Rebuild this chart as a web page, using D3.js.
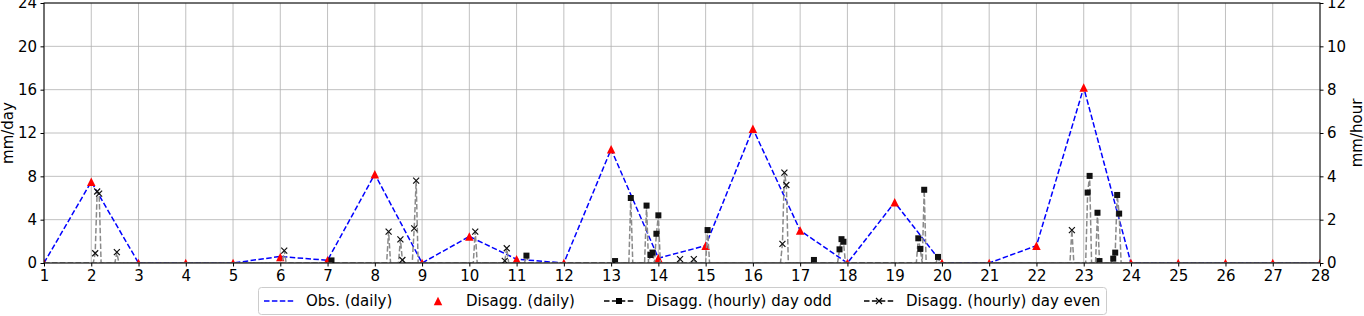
<!DOCTYPE html>
<html>
<head>
<meta charset="utf-8">
<script src="https://cdn.jsdelivr.net/npm/d3@7"></script>
<style>
  body { margin: 0; background: #fff; }
  text { font-family: "DejaVu Sans", sans-serif; }
</style>
</head>
<body>
<svg id="chart" width="1364" height="316"></svg>
<script>
// daily values (mm/day), days 1..28
const days = d3.range(1, 29)
const obsDaily = [0, 7.5, 0, 0, 0, 0.6, 0.25, 8.2, 0, 2.45, 0.35, 0, 10.5, 0.45,
  1.6, 12.4, 3.0, 0, 5.6, 0, 0, 1.6, 16.2, 0, 0, 0, 0, 0]
const disaggDaily = [0, 7.5, 0, 0, 0, 0.55, 0.25, 8.2, 0, 2.45, 0.35, 0, 10.5, 0.45,
  1.6, 12.4, 3.0, 0, 5.6, 0, 0, 1.6, 16.2, 0, 0, 0, 0, 0]

// hourly values (mm/hour), [day, hour (1..24), value], all other hours are 0
const hourlyOdd = [
  [7, 2, 0.12],
  [11, 5, 0.34],
  [13, 2, 0.09], [13, 10, 3.0], [13, 18, 2.65], [13, 20, 0.37], [13, 21, 0.48], [13, 23, 1.35], [13, 24, 2.2],
  [15, 1, 1.52],
  [17, 7, 0.14], [17, 20, 0.63], [17, 21, 1.1], [17, 22, 0.98],
  [19, 12, 1.14], [19, 13, 0.65], [19, 15, 3.38], [19, 22, 0.28],
  [23, 2, 3.25], [23, 3, 4.02], [23, 7, 2.32], [23, 8, 0.09], [23, 15, 0.2], [23, 16, 0.48], [23, 17, 3.14], [23, 18, 2.28]
]
const hourlyEven = [
  [2, 2, 0.45], [2, 3, 3.3], [2, 4, 3.2], [2, 13, 0.5],
  [6, 2, 0.57],
  [8, 7, 1.45], [8, 13, 1.09], [8, 14, 0.14], [8, 20, 1.6], [8, 21, 3.8],
  [10, 3, 1.45], [10, 18, 0.1], [10, 19, 0.68],
  [14, 11, 0.18], [14, 18, 0.18],
  [16, 15, 0.88], [16, 16, 4.17], [16, 17, 3.6],
  [22, 18, 1.52]
]

const xTicks = d3.range(1, 29)
const yLeftTicks = [0, 4, 8, 12, 16, 20, 24]
const yRightTicks = [0, 2, 4, 6, 8, 10, 12]

const W = 1364, H = 316
const mLeft = 44, mRight = 1320, mTop = 3, mBottom = 263
const fontSize = 15

const svg = d3.select('#chart')
svg.append('rect').attr('width', W).attr('height', H).attr('fill', '#fff')

const x = d3.scaleLinear().domain([1, 28]).range([mLeft, mRight])
const yL = d3.scaleLinear().domain([0, 24]).range([mBottom, mTop])
const yR = d3.scaleLinear().domain([0, 12]).range([mBottom, mTop])

svg.append('clipPath').attr('id', 'plot-clip')
  .append('rect').attr('x', mLeft).attr('y', mTop).attr('width', mRight - mLeft).attr('height', mBottom - mTop)

// grid
const grid = svg.append('g')
grid.selectAll('.gx').data(xTicks).enter().append('line')
  .attr('x1', d => x(d)).attr('x2', d => x(d)).attr('y1', mTop).attr('y2', mBottom)
  .attr('stroke', '#b0b0b0').attr('stroke-width', 0.8)
grid.selectAll('.gy').data(yLeftTicks).enter().append('line')
  .attr('x1', mLeft).attr('x2', mRight).attr('y1', d => yL(d)).attr('y2', d => yL(d))
  .attr('stroke', '#b0b0b0').attr('stroke-width', 0.8)

const plot = svg.append('g').attr('clip-path', 'url(#plot-clip)')

// observed daily line
plot.append('path')
  .datum(days.map((d, i) => [d, obsDaily[i]]))
  .attr('d', d3.line().x(d => x(d[0])).y(d => yL(d[1])))
  .attr('fill', 'none').attr('stroke', '#0000ff').attr('stroke-width', 1.5)
  .attr('stroke-dasharray', '5.5,2.4')

// disaggregated daily triangles
const tri = s => `M0,${-s / 2}L${s / 2},${s / 2}L${-s / 2},${s / 2}Z`
plot.selectAll('.tri').data(days.map((d, i) => [d, disaggDaily[i]])).enter().append('path')
  .attr('d', tri(8.5))
  .attr('transform', d => `translate(${x(d[0])},${yL(d[1])})`)
  .attr('fill', '#ff0000')

// hourly series
function hourlySeries (entries) {
  const n = 27 * 24
  const vals = new Array(n + 1).fill(0)
  entries.forEach(e => { vals[(e[0] - 1) * 24 + e[1]] = e[2] })
  return vals.map((v, i) => [1 + i / 24, v])
}

function drawHourly (entries, marker) {
  const pts = hourlySeries(entries)
  plot.append('path')
    .datum(pts)
    .attr('d', d3.line().x(d => x(d[0])).y(d => yR(d[1])))
    .attr('fill', 'none').attr('stroke', '#8a8a8a').attr('stroke-width', 1.5)
    .attr('stroke-dasharray', '5.5,2.4')
  const nz = pts.filter(d => d[1] > 0)
  if (marker === 'square') {
    plot.selectAll(null).data(nz).enter().append('rect')
      .attr('x', d => x(d[0]) - 3).attr('y', d => yR(d[1]) - 3)
      .attr('width', 6).attr('height', 6).attr('fill', '#111')
  } else {
    plot.selectAll(null).data(nz).enter().append('path')
      .attr('d', 'M-3,-3L3,3M-3,3L3,-3')
      .attr('transform', d => `translate(${x(d[0])},${yR(d[1])})`)
      .attr('stroke', '#111').attr('stroke-width', 1.2)
  }
}
drawHourly(hourlyOdd, 'square')
drawHourly(hourlyEven, 'x')

// frame
svg.append('rect').attr('x', mLeft).attr('y', mTop).attr('width', mRight - mLeft).attr('height', mBottom - mTop)
  .attr('fill', 'none').attr('stroke', '#000').attr('stroke-width', 1)

// axes
function styleAxis (g) {
  g.select('.domain').remove()
  g.selectAll('text').attr('font-size', fontSize).attr('fill', '#000')
    .style('font-family', '"DejaVu Sans", sans-serif')
  g.selectAll('line').attr('stroke', '#000')
}
svg.append('g').attr('transform', `translate(0,${mBottom})`)
  .call(d3.axisBottom(x).tickValues(xTicks).tickFormat(d3.format('d')).tickSize(3.5).tickPadding(3.5))
  .call(styleAxis)
svg.append('g').attr('transform', `translate(${mLeft},0)`)
  .call(d3.axisLeft(yL).tickValues(yLeftTicks).tickFormat(d3.format('d')).tickSize(3.5).tickPadding(3.5))
  .call(styleAxis)
svg.append('g').attr('transform', `translate(${mRight},0)`)
  .call(d3.axisRight(yR).tickValues(yRightTicks).tickFormat(d3.format('d')).tickSize(3.5).tickPadding(3.5))
  .call(styleAxis)

// axis labels
svg.append('text').attr('transform', `translate(13,${(mTop + mBottom) / 2}) rotate(-90)`)
  .attr('text-anchor', 'middle').attr('font-size', fontSize).text('mm/day')
svg.append('text').attr('transform', `translate(1362,${(mTop + mBottom) / 2}) rotate(-90)`)
  .attr('text-anchor', 'middle').attr('font-size', fontSize).text('mm/hour')

// legend
const lg = svg.append('g')
lg.append('rect').attr('x', 258.5).attr('y', 287.5).attr('width', 848).attr('height', 27).attr('rx', 3)
  .attr('fill', '#fff').attr('fill-opacity', 0.8).attr('stroke', '#cccccc')
const ly = 301
lg.append('line').attr('x1', 264).attr('x2', 294).attr('y1', ly).attr('y2', ly)
  .attr('stroke', '#0000ff').attr('stroke-width', 1.5).attr('stroke-dasharray', '5.5,2.4')
lg.append('path').attr('d', tri(8.5)).attr('transform', `translate(438,${ly})`).attr('fill', '#ff0000')
lg.append('line').attr('x1', 604).attr('x2', 634).attr('y1', ly).attr('y2', ly)
  .attr('stroke', '#000').attr('stroke-width', 1.5).attr('stroke-dasharray', '5.5,2.4')
lg.append('rect').attr('x', 616).attr('y', ly - 3).attr('width', 6).attr('height', 6).attr('fill', '#000')
lg.append('line').attr('x1', 864).attr('x2', 894).attr('y1', ly).attr('y2', ly)
  .attr('stroke', '#000').attr('stroke-width', 1.5).attr('stroke-dasharray', '5.5,2.4')
lg.append('path').attr('d', 'M-3,-3L3,3M-3,3L3,-3').attr('transform', `translate(879,${ly})`)
  .attr('stroke', '#000').attr('stroke-width', 1.2)

const legendTexts = [['Obs. (daily)', 306], ['Disagg. (daily)', 466], ['Disagg. (hourly) day odd', 646], ['Disagg. (hourly) day even', 906]]
lg.selectAll('.lt').data(legendTexts).enter().append('text')
  .attr('x', d => d[1]).attr('y', ly).attr('dy', '0.35em')
  .attr('font-size', fontSize).text(d => d[0])
</script>
</body>
</html>
